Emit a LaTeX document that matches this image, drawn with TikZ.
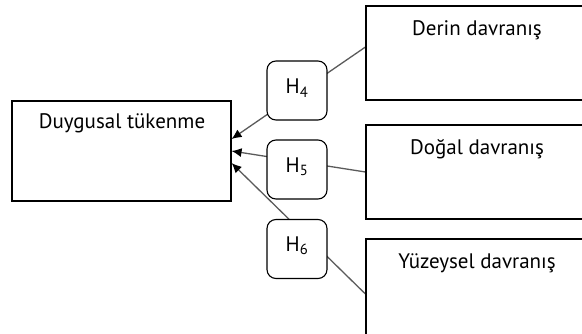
\documentclass[tikz,border=0pt]{standalone}
\usepackage{fontspec}
\setmainfont{PT Sans}
\usetikzlibrary{arrows.meta,backgrounds}
\begin{document}
\begin{tikzpicture}[x=1pt,y=1pt,
  bigbox/.style={draw=black,line width=1.1pt,fill=white,rectangle,inner sep=0pt},
  hbox/.style={draw=black,line width=1.1pt,fill=white,rectangle,rounded corners=9pt,minimum width=60pt,minimum height=59pt,inner sep=0pt},
  lbl/.style={font=\fontsize{21}{24}\selectfont,inner sep=0pt},
  conn/.style={draw={rgb,255:red,90;green,90;blue,90},line width=1.3pt,-{Latex[length=10pt,width=9pt,color=black]}}]
\useasboundingbox (0,0) rectangle (582,333);
\clip (0,0) rectangle (582,333);
% boxes
\node[bigbox,minimum width=219pt,minimum height=100pt] (duy) at (121.5,182) {};
\node[bigbox,minimum width=240pt,minimum height=94pt] (derin) at (486,280) {};
\node[bigbox,minimum width=240pt,minimum height=94pt] (dogal) at (486,161) {};
\node[bigbox,minimum width=240pt,minimum height=120pt] (yuz) at (486,34) {};
% texts
\node[lbl] (tduy) at (122,210) {Duygusal tükenme};
\node[lbl] (tderin) at (477,303) {Derin davranış};
\node[lbl] (tdogal) at (477,184) {Doğal davranış};
\node[lbl] (tyuz) at (477,70) {Yüzeysel davranış};
% hypothesis boxes
\node[hbox] (h4) at (297,242.5) {};
\node[hbox] (h5) at (297,163.5) {};
\node[hbox] (h6) at (297,84) {};
\node[lbl] (th4) at (297,245) {H\textsubscript{4}};
\node[lbl] (th5) at (297,166) {H\textsubscript{5}};
\node[lbl] (th6) at (297,87) {H\textsubscript{6}};
% connectors
\begin{scope}[on background layer]
\draw[conn] ([yshift=6pt]derin.west) -- ([yshift=12pt]duy.east);
\draw[conn] (dogal.west) -- (duy.east);
\draw[conn] ([yshift=5pt]yuz.west) -- ([yshift=-12pt]duy.east);
\end{scope}
\end{tikzpicture}
\end{document}
